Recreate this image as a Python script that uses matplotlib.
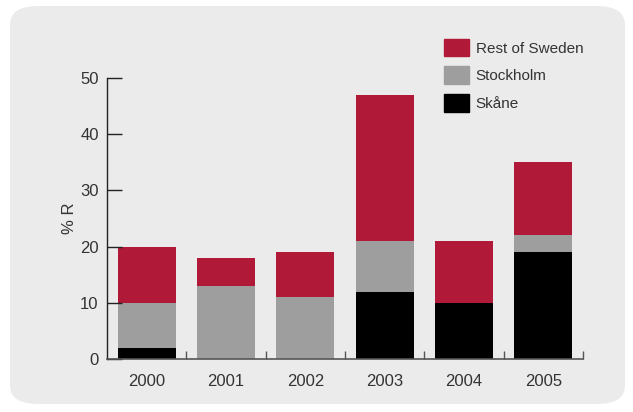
import matplotlib.pyplot as plt
from matplotlib.patches import FancyBboxPatch, Patch
import numpy as np

plt.rcParams['font.family'] = ['Liberation Sans', 'DejaVu Sans']

# data
years = ['2000', '2001', '2002', '2003', '2004', '2005']
skane = [2, 0, 0, 12, 10, 19]
stockholm = [8, 13, 11, 9, 0, 3]
rest = [10, 5, 8, 26, 11, 13]

c_rest = '#b01a38'
c_sthlm = '#9d9e9d'
c_skane = '#000000'
txt = '#333333'

W, H = 633, 412
fig = plt.figure(figsize=(W / 100, H / 100), dpi=100)
fig.patch.set_facecolor('white')

# rounded grey panel behind everything
panel = FancyBboxPatch((10 / W, 8 / H), 615 / W, 398 / H,
                       boxstyle='round,pad=0,rounding_size=0.045',
                       transform=fig.transFigure, facecolor='#ebebeb',
                       edgecolor='none', zorder=-10)
fig.patches.append(panel)

ax = fig.add_axes([107 / W, (H - 359) / H, 476 / W, 281 / H])
ax.patch.set_alpha(0)

x = np.arange(len(years))
skane = np.array(skane)
stockholm = np.array(stockholm)
rest = np.array(rest)
bw = 0.73
ax.bar(x, skane, bw, color=c_skane, label='Skåne')
ax.bar(x, stockholm, bw, bottom=skane, color=c_sthlm, label='Stockholm')
ax.bar(x, rest, bw, bottom=skane + stockholm, color=c_rest, label='Rest of Sweden')

ax.set_xlim(-0.5, 5.5)
ax.set_ylim(0, 50)
ax.set_yticks([0, 10, 20, 30, 40, 50])
ax.tick_params(axis='y', direction='in', length=11, width=1, colors='#222222',
               labelcolor=txt, labelsize=12, pad=6)
ax.set_xticks(np.arange(0.5, 6, 1))
ax.set_xticklabels([])
ax.tick_params(axis='x', direction='in', length=6, width=1, colors='#555555')
for xi, yr in zip(x, years):
    ax.text(xi, -2.6, yr, ha='center', va='top', fontsize=12, color=txt)

for s in ['top', 'right']:
    ax.spines[s].set_visible(False)
ax.spines['left'].set_color('#222222')
ax.spines['bottom'].set_color('#555555')
ax.spines['left'].set_linewidth(1)
ax.spines['bottom'].set_linewidth(1.2)

ax.set_ylabel('% R', fontsize=12, color=txt, labelpad=2)

handles = [Patch(color=c_rest), Patch(color=c_sthlm), Patch(color=c_skane)]
labels = ['Rest of Sweden', 'Stockholm', 'Skåne']
fig.legend(handles, labels, loc='upper left', bbox_to_anchor=(430 / W, 1 - 25 / H),
           frameon=False, fontsize=11, handlelength=1.65, handleheight=1.4,
           labelspacing=0.65, handletextpad=0.45, labelcolor=txt)

fig.savefig('out.png', dpi=100)
